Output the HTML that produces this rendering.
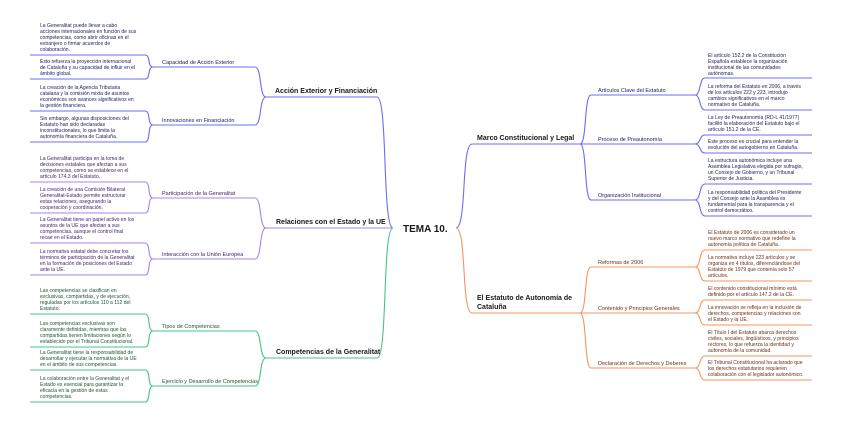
<!DOCTYPE html>
<html><head><meta charset="utf-8"><style>
html,body{margin:0;padding:0;background:#fff;width:848px;height:424px;overflow:hidden}
svg{display:block}
text{font-family:"Liberation Sans",sans-serif}
.lf{font-size:5.05px}
.sb{font-size:5.5px}
.mn{font-size:7px;font-weight:bold;fill:#1a1a1a}
path{fill:none;stroke-width:1.1}
.b path{stroke:#6c6cf2}.b text.lf,.b text.sb{fill:#22225e}
.p path{stroke:#a784f0}.p text.lf,.p text.sb{fill:#3a1f6a}
.g path{stroke:#45c486}.g text.lf,.g text.sb{fill:#1d5632}
.o path{stroke:#f4945f}.o text.lf,.o text.sb{fill:#6e2f14}
</style></head><body>
<svg width="848" height="424" viewBox="0 0 848 424" xmlns="http://www.w3.org/2000/svg">
<text x="403" y="232" style="font-size:10px;font-weight:bold;fill:#1a1a1a">TEMA 10.</text>

<!-- Acción Exterior -->
<g class="b">
<path d="M393 228 C382 228,388 97,377 97 L266 97"/>
<path d="M266 97 C259 97,262 67,255 67 L153 67"/>
<path d="M266 97 C259 97,262 125,255 125 L153 125"/>
<path d="M153 67 C147 67,151 55,145 55 L30 55"/>
<path d="M153 67 C147 67,151 79,145 79 L30 79"/>
<path d="M153 125 C147 125,151 111,145 111 L30 111"/>
<path d="M153 125 C147 125,151 142,145 142 L30 142"/>
<text class="mn" x="275" y="93">Acción Exterior y Financiación</text>
<text class="sb" x="162" y="64">Capacidad de Acción Exterior</text>
<text class="sb" x="162" y="122">Innovaciones en Financiación</text>
<text class="lf" x="40" y="27"><tspan x="40">La Generalitat puede llevar a cabo</tspan><tspan x="40" dy="6">acciones internacionales en función de sus</tspan><tspan x="40" dy="6">competencias, como abrir oficinas en el</tspan><tspan x="40" dy="6">extranjero o firmar acuerdos de</tspan><tspan x="40" dy="6">colaboración.</tspan></text>
<text class="lf" x="40" y="63"><tspan x="40">Esto refuerza la proyección internacional</tspan><tspan x="40" dy="6">de Cataluña y su capacidad de influir en el</tspan><tspan x="40" dy="6">ámbito global.</tspan></text>
<text class="lf" x="40" y="89"><tspan x="40">La creación de la Agencia Tributaria</tspan><tspan x="40" dy="6">catalana y la comisión mixta de asuntos</tspan><tspan x="40" dy="6">económicos son avances significativos en</tspan><tspan x="40" dy="6">la gestión financiera.</tspan></text>
<text class="lf" x="40" y="120"><tspan x="40">Sin embargo, algunas disposiciones del</tspan><tspan x="40" dy="6">Estatuto han sido declaradas</tspan><tspan x="40" dy="6">inconstitucionales, lo que limita la</tspan><tspan x="40" dy="6">autonomía financiera de Cataluña.</tspan></text>
</g>

<!-- Relaciones -->
<g class="p">
<path d="M393 228 L266 228"/>
<path d="M266 228 C259 228,262 198,255 198 L153 198"/>
<path d="M266 228 C259 228,262 259,255 259 L153 259"/>
<path d="M153 198 C147 198,151 182,145 182 L30 182"/>
<path d="M153 198 C147 198,151 213,145 213 L30 213"/>
<path d="M153 259 C147 259,151 243,145 243 L30 243"/>
<path d="M153 259 C147 259,151 275,145 275 L30 275"/>
<text class="mn" x="276" y="224">Relaciones con el Estado y la UE</text>
<text class="sb" x="162" y="195">Participación de la Generalitat</text>
<text class="sb" x="162" y="256">Interacción con la Unión Europea</text>
<text class="lf" x="40" y="160"><tspan x="40">La Generalitat participa en la toma de</tspan><tspan x="40" dy="6">decisiones estatales que afectan a sus</tspan><tspan x="40" dy="6">competencias, como se establece en el</tspan><tspan x="40" dy="6">artículo 174.3 del Estatuto.</tspan></text>
<text class="lf" x="40" y="191"><tspan x="40">La creación de una Comisión Bilateral</tspan><tspan x="40" dy="6">Generalitat-Estado permite estructurar</tspan><tspan x="40" dy="6">estas relaciones, asegurando la</tspan><tspan x="40" dy="6">cooperación y coordinación.</tspan></text>
<text class="lf" x="40" y="221"><tspan x="40">La Generalitat tiene un papel activo en los</tspan><tspan x="40" dy="6">asuntos de la UE que afectan a sus</tspan><tspan x="40" dy="6">competencias, aunque el control final</tspan><tspan x="40" dy="6">recae en el Estado.</tspan></text>
<text class="lf" x="40" y="253"><tspan x="40">La normativa estatal debe concretar los</tspan><tspan x="40" dy="6">términos de participación de la Generalitat</tspan><tspan x="40" dy="6">en la formación de posiciones del Estado</tspan><tspan x="40" dy="6">ante la UE.</tspan></text>
</g>

<!-- Competencias -->
<g class="g">
<path d="M393 228 C382 228,388 358,377 358 L266 358"/>
<path d="M266 358 C259 358,262 331,255 331 L153 331"/>
<path d="M266 358 C259 358,262 386,255 386 L153 386"/>
<path d="M153 331 C147 331,151 314,145 314 L30 314"/>
<path d="M153 331 C147 331,151 347,145 347 L30 347"/>
<path d="M153 386 C147 386,151 370,145 370 L30 370"/>
<path d="M153 386 C147 386,151 402,145 402 L30 402"/>
<text class="mn" x="276" y="354">Competencias de la Generalitat</text>
<text class="sb" x="162" y="328">Tipos de Competencias</text>
<text class="sb" x="162" y="383">Ejercicio y Desarrollo de Competencias</text>
<text class="lf" x="40" y="292"><tspan x="40">Las competencias se clasifican en</tspan><tspan x="40" dy="6">exclusivas, compartidas, y de ejecución,</tspan><tspan x="40" dy="6">reguladas por los artículos 110 a 112 del</tspan><tspan x="40" dy="6">Estatuto.</tspan></text>
<text class="lf" x="40" y="325"><tspan x="40">Las competencias exclusivas son</tspan><tspan x="40" dy="6">claramente definidas, mientras que las</tspan><tspan x="40" dy="6">compartidas tienen limitaciones según lo</tspan><tspan x="40" dy="6">establecido por el Tribunal Constitucional.</tspan></text>
<text class="lf" x="40" y="354"><tspan x="40">La Generalitat tiene la responsabilidad de</tspan><tspan x="40" dy="6">desarrollar y ejecutar la normativa de la UE</tspan><tspan x="40" dy="6">en el ámbito de sus competencias.</tspan></text>
<text class="lf" x="40" y="380"><tspan x="40">La colaboración entre la Generalitat y el</tspan><tspan x="40" dy="6">Estado es esencial para garantizar la</tspan><tspan x="40" dy="6">eficacia en la gestión de estas</tspan><tspan x="40" dy="6">competencias.</tspan></text>
</g>

<!-- Marco -->
<g class="b">
<path d="M456 228 C467 228,461 144,472 144 L580 144"/>
<path d="M580 144 C587 144,584 95,591 95 L695 95"/>
<path d="M580 144 L695 144"/>
<path d="M580 144 C587 144,584 200,591 200 L695 200"/>
<path d="M695 95 C701 95,699 78,705 78 L812 78"/>
<path d="M695 95 C701 95,699 110,705 110 L812 110"/>
<path d="M695 144 C701 144,699 135,705 135 L812 135"/>
<path d="M695 144 C701 144,699 153,705 153 L812 153"/>
<path d="M695 200 C701 200,699 184,705 184 L812 184"/>
<path d="M695 200 C701 200,699 216,705 216 L812 216"/>
<text class="mn" x="477" y="140">Marco Constitucional y Legal</text>
<text class="sb" x="598" y="92">Artículos Clave del Estatuto</text>
<text class="sb" x="598" y="141">Proceso de Preautonomía</text>
<text class="sb" x="598" y="197">Organización Institucional</text>
<text class="lf" x="708" y="57"><tspan x="708">El artículo 152.2 de la Constitución</tspan><tspan x="708" dy="6">Española establece la organización</tspan><tspan x="708" dy="6">institucional de las comunidades</tspan><tspan x="708" dy="6">autónomas.</tspan></text>
<text class="lf" x="708" y="88"><tspan x="708">La reforma del Estatuto en 2006, a través</tspan><tspan x="708" dy="6">de los artículos 222 y 223, introdujo</tspan><tspan x="708" dy="6">cambios significativos en el marco</tspan><tspan x="708" dy="6">normativo de Cataluña.</tspan></text>
<text class="lf" x="708" y="119"><tspan x="708">La Ley de Preautonomía (RD-L 41/1977)</tspan><tspan x="708" dy="6">facilitó la elaboración del Estatuto bajo el</tspan><tspan x="708" dy="6">artículo 151.2 de la CE.</tspan></text>
<text class="lf" x="708" y="143"><tspan x="708">Este proceso es crucial para entender la</tspan><tspan x="708" dy="6">evolución del autogobierno en Cataluña.</tspan></text>
<text class="lf" x="708" y="162"><tspan x="708">La estructura autonómica incluye una</tspan><tspan x="708" dy="6">Asamblea Legislativa elegida por sufragio,</tspan><tspan x="708" dy="6">un Consejo de Gobierno, y un Tribunal</tspan><tspan x="708" dy="6">Superior de Justicia.</tspan></text>
<text class="lf" x="708" y="194"><tspan x="708">La responsabilidad política del Presidente</tspan><tspan x="708" dy="6">y del Consejo ante la Asamblea es</tspan><tspan x="708" dy="6">fundamental para la transparencia y el</tspan><tspan x="708" dy="6">control democrático.</tspan></text>
</g>

<!-- Estatuto -->
<g class="o">
<path d="M456 228 C467 228,461 313,472 313 L580 313"/>
<path d="M580 313 C587 313,584 267,591 267 L695 267"/>
<path d="M580 313 L695 313"/>
<path d="M580 313 C587 313,584 368,591 368 L695 368"/>
<path d="M695 267 C701 267,699 250,705 250 L812 250"/>
<path d="M695 267 C701 267,699 281,705 281 L812 281"/>
<path d="M695 313 C701 313,699 300,705 300 L812 300"/>
<path d="M695 313 C701 313,699 325,705 325 L812 325"/>
<path d="M695 368 C701 368,699 356,705 356 L812 356"/>
<path d="M695 368 C701 368,699 380,705 380 L812 380"/>
<text class="mn" x="477" y="300">El Estatuto de Autonomía de</text>
<text class="mn" x="477" y="309">Cataluña</text>
<text class="sb" x="598" y="264">Reformas de 2006</text>
<text class="sb" x="598" y="310">Contenido y Principios Generales</text>
<text class="sb" x="598" y="365">Declaración de Derechos y Deberes</text>
<text class="lf" x="708" y="234"><tspan x="708">El Estatuto de 2006 es considerado un</tspan><tspan x="708" dy="6">nuevo marco normativo que redefine la</tspan><tspan x="708" dy="6">autonomía política de Cataluña.</tspan></text>
<text class="lf" x="708" y="259"><tspan x="708">La normativa incluye 223 artículos y se</tspan><tspan x="708" dy="6">organiza en 4 títulos, diferenciándose del</tspan><tspan x="708" dy="6">Estatuto de 1979 que contenía solo 57</tspan><tspan x="708" dy="6">artículos.</tspan></text>
<text class="lf" x="708" y="290"><tspan x="708">El contenido constitucional mínimo está</tspan><tspan x="708" dy="6">definido por el artículo 147.2 de la CE.</tspan></text>
<text class="lf" x="708" y="309"><tspan x="708">La innovación se refleja en la inclusión de</tspan><tspan x="708" dy="6">derechos, competencias y relaciones con</tspan><tspan x="708" dy="6">el Estado y la UE.</tspan></text>
<text class="lf" x="708" y="334"><tspan x="708">El Título I del Estatuto abarca derechos</tspan><tspan x="708" dy="6">civiles, sociales, lingüísticos, y principios</tspan><tspan x="708" dy="6">rectores, lo que refuerza la identidad y</tspan><tspan x="708" dy="6">autonomía de la comunidad.</tspan></text>
<text class="lf" x="708" y="364"><tspan x="708">El Tribunal Constitucional ha aclarado que</tspan><tspan x="708" dy="6">los derechos estatutarios requieren</tspan><tspan x="708" dy="6">colaboración con el legislador autonómico.</tspan></text>
</g>
</svg>
</body></html>
